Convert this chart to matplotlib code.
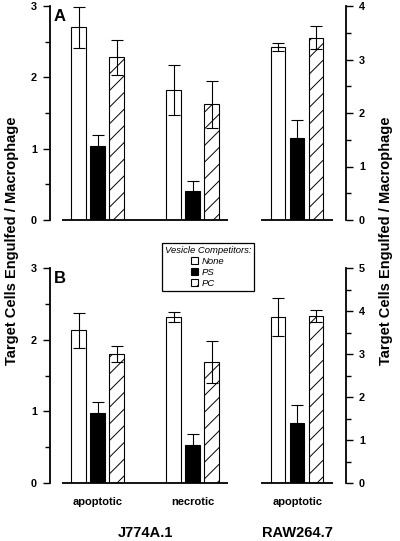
import numpy as np
import matplotlib
matplotlib.use("Agg")
import matplotlib.pyplot as plt
from matplotlib.patches import Patch
from matplotlib.ticker import MultipleLocator
from matplotlib.transforms import blended_transform_factory

plt.rcParams['font.family'] = ['Liberation Sans', 'DejaVu Sans']
plt.rcParams['font.weight'] = 'bold'
plt.rcParams['hatch.linewidth'] = 0.7

# data
competitors = ["None", "PS", "PC"]
j774_targets = ["apoptotic", "necrotic"]
raw_targets = ["apoptotic"]
cell_lines = ["J774A.1", "RAW264.7"]

# panel A: rows = competitor (None, PS, PC), cols = target
a_j774_mean = [[2.70, 1.82], [1.04, 0.40], [2.28, 1.62]]
a_j774_err = [[0.29, 0.35], [0.15, 0.15], [0.25, 0.33]]
a_raw_mean = [3.23, 1.54, 3.41]
a_raw_err = [0.08, 0.33, 0.22]

# panel B
b_j774_mean = [[2.13, 2.31], [0.98, 0.53], [1.80, 1.69]]
b_j774_err = [[0.24, 0.07], [0.15, 0.16], [0.11, 0.29]]
b_raw_mean = [3.86, 1.40, 3.88]
b_raw_err = [0.44, 0.41, 0.14]

faces = ["white", "black", "white"]
hatches = [None, None, "//"]

# layout (x in units of one bar step)
W, H = 400, 541
j774_pos = np.array([2.5, 7.5])
raw_pos = np.array([13.0])
step = 1.0
width = 0.76
xmax = 15.55

fig = plt.figure(figsize=(W / 100, H / 100), dpi=100)


def px_axes(left, top, right, bottom):
    return fig.add_axes([left / W, 1 - bottom / H, (right - left) / W, (bottom - top) / H])


def draw_group(ax, pos, means, errs):
    for k in range(3):
        x = pos + (k - 1) * step
        ax.bar(x, means[k], width, color=faces[k], edgecolor="black", hatch=hatches[k],
               linewidth=0.8, zorder=2)
        ax.errorbar(x, means[k], yerr=errs[k], fmt="none", ecolor="black", elinewidth=0.8,
                    capsize=4.3, capthick=0.8, zorder=3)
    lo = pos.min() - step - width / 2 - 0.5
    hi = pos.max() + step + width / 2 + 0.5
    ax.hlines(0, lo, hi, color="black", linewidth=1.3, zorder=4, clip_on=False)


def style_axis(ax, ymax, side):
    ax.set_xlim(0, xmax)
    ax.set_ylim(0, ymax)
    for s in ["top", "bottom", "left", "right"]:
        ax.spines[s].set_visible(s == side)
    ax.spines[side].set_linewidth(1.3)
    ax.yaxis.set_major_locator(MultipleLocator(1))
    ax.yaxis.set_minor_locator(MultipleLocator(0.5))
    ax.tick_params(axis="y", which="major", direction="out", length=5, width=1.0,
                   labelsize=7.8, pad=4.5)
    ax.tick_params(axis="y", which="minor", direction="out", length=3.3, width=1.0)
    ax.tick_params(axis="x", length=0)


def panel(top, bottom, letter, j_mean, j_err, r_mean, r_err, ymax_l, ymax_r):
    ax = px_axes(50, top, 345.7, bottom)
    axr = ax.twinx()
    draw_group(ax, j774_pos, j_mean, j_err)
    draw_group(axr, raw_pos, r_mean, r_err)
    style_axis(ax, ymax_l, "left")
    style_axis(axr, ymax_r, "right")
    ax.set_xticks([])
    fig.text(54 / W, 1 - (top + 15) / H, letter, fontsize=12, fontweight="bold", va="baseline")
    return ax, axr


axA, axA_r = panel(6, 220, "A", a_j774_mean, a_j774_err, a_raw_mean, a_raw_err, 3, 4)
axB, axB_r = panel(268, 483, "B", b_j774_mean, b_j774_err, b_raw_mean, b_raw_err, 3, 5)

# category and cell line labels under panel B
trans = blended_transform_factory(axB.transData, fig.transFigure)
for p, t in zip(list(j774_pos) + list(raw_pos), j774_targets + raw_targets):
    fig.text(p, 1 - 502 / H, t, transform=trans, ha="center", va="center", fontsize=8)
fig.text(j774_pos.mean(), 1 - 533 / H, cell_lines[0], transform=trans, ha="center",
         va="center", fontsize=10.5)
fig.text(raw_pos.mean(), 1 - 533 / H, cell_lines[1], transform=trans, ha="center",
         va="center", fontsize=10.5)

ylabel = "Target Cells Engulfed / Macrophage"
fig.text(12 / W, 1 - 241 / H, ylabel, rotation=90, ha="center", va="center", fontsize=10.5)
fig.text(386 / W, 1 - 241 / H, ylabel, rotation=90, ha="center", va="center", fontsize=10.5)

handles = [Patch(facecolor=faces[k], edgecolor="black", hatch=hatches[k], linewidth=0.8)
           for k in range(3)]
leg = fig.legend(handles, competitors, title="Vesicle Competitors:", loc="upper left",
                 bbox_to_anchor=(161.7 / W, 1 - 243.3 / H), borderaxespad=0,
                 prop={"size": 6.8, "style": "italic", "weight": "normal"},
                 title_fontproperties={"size": 6.8, "style": "italic", "weight": "normal"},
                 handlelength=0.75, handleheight=0.75, handletextpad=0.4,
                 labelspacing=0.2, borderpad=0.3, fancybox=False, framealpha=1,
                 edgecolor="black")
leg.get_frame().set_linewidth(0.9)

fig.savefig("out.png", dpi=100)
